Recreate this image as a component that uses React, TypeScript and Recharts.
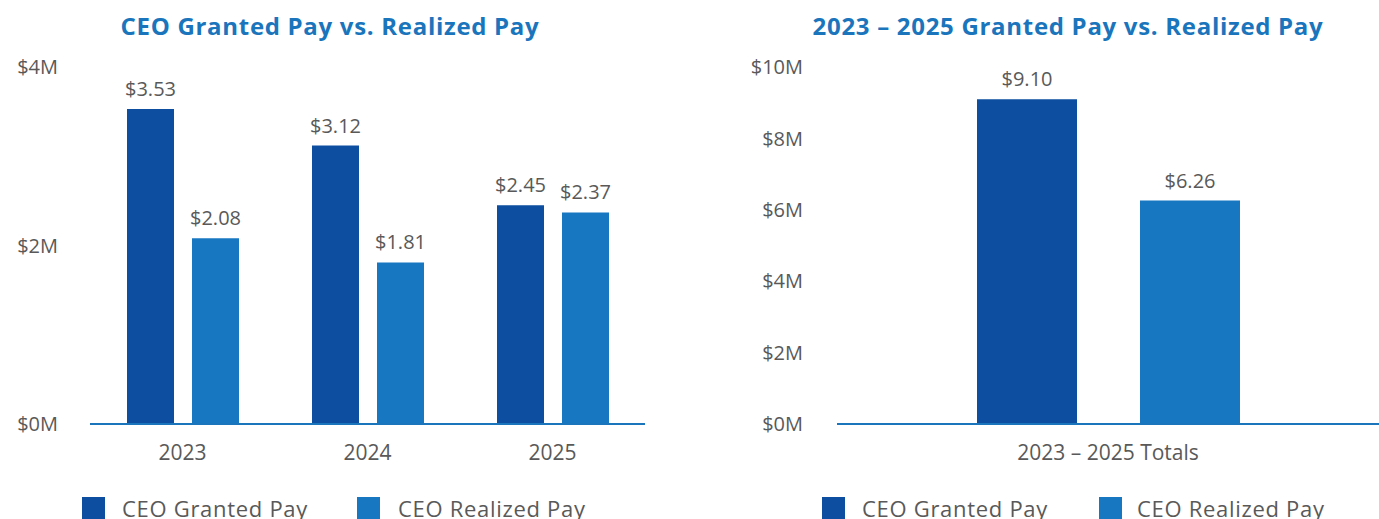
import { BarChart, Bar, XAxis, YAxis, LabelList } from 'recharts';

const years = ['2023', '2024', '2025'];
const grantedPay = [3.53, 3.12, 2.45];
const realizedPay = [2.08, 1.81, 2.37];

const totalsCategory = ['2023 – 2025 Totals'];
const totalGranted = [9.1];
const totalRealized = [6.26];

const leftTicks = [0, 2, 4];
const rightTicks = [0, 2, 4, 6, 8, 10];

const seriesNames = ['CEO Granted Pay', 'CEO Realized Pay'];

const GRANTED = '#0d4ea1';
const REALIZED = '#1777c0';
const TITLE = '#1a75bc';
const TEXT = '#595959';
const FONT = '"Open Sans", sans-serif';

const yearData = years.map((y, i) => ({ name: y, granted: grantedPay[i], realized: realizedPay[i] }));
const totalData = totalsCategory.map((c, i) => ({ name: c, granted: totalGranted[i], realized: totalRealized[i] }));

const money = (v: any) => `$${Number(v).toFixed(2)}`;
const millions = (v: any) => `$${v}M`;

const tickStyle = { fill: TEXT, fontSize: 20, fontFamily: FONT };
const catTickStyle = { fill: TEXT, fontSize: 21, fontFamily: FONT };
const labelStyle = { fill: TEXT, fontSize: 20, fontFamily: FONT };

// legend items: square x and text x, per series
function Legend2({ squares, texts }: { squares: number[]; texts: number[] }) {
  const colors = [GRANTED, REALIZED];
  return (
    <>
      {seriesNames.map((n, i) => (
        <div key={n}>
          <div style={{ position: 'absolute', left: squares[i], top: 497, width: 23, height: 23, background: colors[i] }} />
          <div
            style={{
              position: 'absolute',
              left: texts[i],
              top: 497,
              fontFamily: FONT,
              fontSize: 22,
              lineHeight: '22px',
              letterSpacing: 0.7,
              color: TEXT,
              whiteSpace: 'nowrap',
            }}
          >
            {n}
          </div>
        </div>
      ))}
    </>
  );
}

function Title({ text, center }: { text: string; center: number }) {
  return (
    <div
      style={{
        position: 'absolute',
        top: 9,
        left: center - 300,
        width: 600,
        textAlign: 'center',
        fontFamily: FONT,
        fontWeight: 700,
        fontSize: 24,
        letterSpacing: 0.7,
        color: TITLE,
        lineHeight: '34px',
      }}
    >
      {text}
    </div>
  );
}

export default function App() {
  return (
    <div style={{ position: 'fixed', left: 0, top: 0, width: 1379, height: 519, overflow: 'hidden', background: '#fff' }}>
      <Title text="CEO Granted Pay vs. Realized Pay" center={330} />
      <Title text="2023 – 2025 Granted Pay vs. Realized Pay" center={1068} />

      <div style={{ position: 'absolute', left: 0, top: 0 }}>
        <BarChart
          width={660}
          height={519}
          data={yearData}
          margin={{ top: 67, right: 15, left: 0, bottom: 65 }}
          barGap={18}
          barSize={47}
        >
          <XAxis
            dataKey="name"
            axisLine={{ stroke: TITLE, strokeWidth: 2 }}
            tickLine={false}
            tick={catTickStyle}
            tickMargin={15}
          />
          <YAxis
            width={90}
            domain={[0, 4]}
            ticks={leftTicks}
            tickFormatter={millions}
            axisLine={false}
            tickLine={false}
            tickSize={0}
            tickMargin={32}
            tick={tickStyle}
          />
          <Bar dataKey="granted" fill={GRANTED} isAnimationActive={false}>
            <LabelList dataKey="granted" position="top" offset={13} formatter={money} style={labelStyle} />
          </Bar>
          <Bar dataKey="realized" fill={REALIZED} isAnimationActive={false}>
            <LabelList dataKey="realized" position="top" offset={13} formatter={money} style={labelStyle} />
          </Bar>
        </BarChart>
      </div>

      <div style={{ position: 'absolute', left: 700, top: 0 }}>
        <BarChart
          width={679}
          height={519}
          data={totalData}
          margin={{ top: 67, right: 0, left: 0, bottom: 65 }}
          barGap={63}
          barSize={100}
        >
          <XAxis
            dataKey="name"
            axisLine={{ stroke: TITLE, strokeWidth: 2 }}
            tickLine={false}
            tick={catTickStyle}
            tickMargin={15}
          />
          <YAxis
            width={137}
            domain={[0, 10]}
            ticks={rightTicks}
            tickFormatter={millions}
            axisLine={false}
            tickLine={false}
            tickSize={0}
            tickMargin={34}
            tick={tickStyle}
          />
          <Bar dataKey="granted" fill={GRANTED} isAnimationActive={false}>
            <LabelList dataKey="granted" position="top" offset={13} formatter={money} style={labelStyle} />
          </Bar>
          <Bar dataKey="realized" fill={REALIZED} isAnimationActive={false}>
            <LabelList dataKey="realized" position="top" offset={13} formatter={money} style={labelStyle} />
          </Bar>
        </BarChart>
      </div>

      <Legend2 squares={[82, 357]} texts={[122, 398]} />
      <Legend2 squares={[822, 1099]} texts={[862, 1137]} />
    </div>
  );
}
